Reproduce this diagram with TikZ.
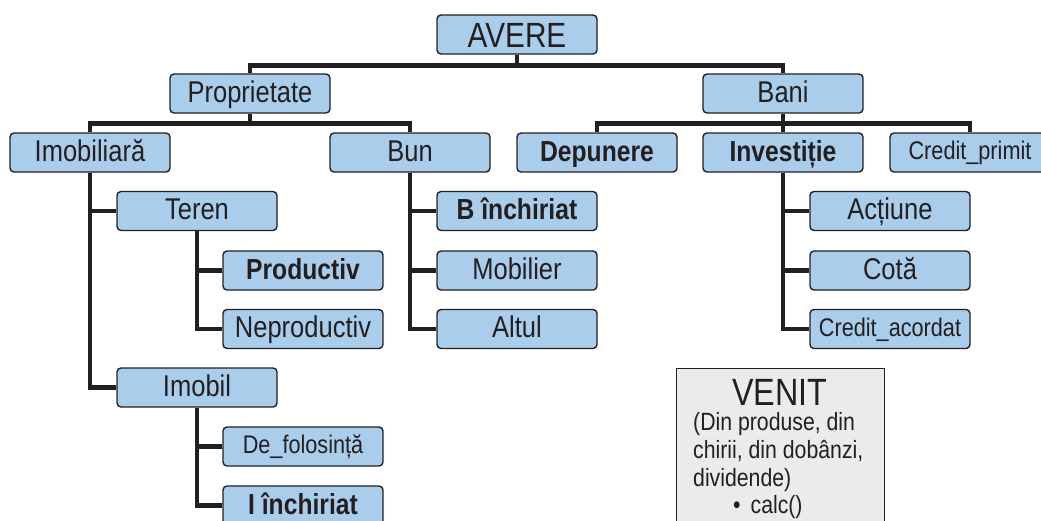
\documentclass[tikz,border=0pt]{standalone}
\usepackage{fontspec}
\setmainfont{Liberation Sans}[FakeStretch=0.85]
\usetikzlibrary{backgrounds}
\definecolor{boxblue}{RGB}{171,205,236}
\definecolor{ink}{RGB}{35,31,32}
\definecolor{venitgray}{RGB}{235,235,236}
\tikzset{
  box/.style={draw=ink, line width=1.4pt, fill=boxblue, rounded corners=4pt,
    minimum width=160pt, minimum height=39pt, inner sep=0pt, text=ink,
    font=\fontsize{30}{30}\selectfont, text height=21pt, text depth=4pt},
  bbox/.style={box, font=\fontsize{29}{29}\selectfont\bfseries},
  sbox/.style={box, font=\fontsize{25.5}{25.5}\selectfont, text height=18pt, text depth=3.5pt},
  topbox/.style={box, font=\fontsize{35}{35}\selectfont, text height=25pt, text depth=0pt},
  conn/.style={draw=ink, line width=4.8pt, line join=miter},
  venitbox/.style={draw=ink, line width=1.4pt, fill=venitgray, inner sep=0pt},
  vtext/.style={inner sep=0pt, text=ink, font=\fontsize{25}{25}\selectfont, anchor=base west}
}
\begin{document}
\begin{tikzpicture}[x=1pt,y=-1pt]
\useasboundingbox (0,0) rectangle (1041,520);
% level 0-1
\node[topbox] (avere) at (517,34.5) {AVERE};
\node[box] (prop) at (250,93.5) {Proprietate};
\node[box] (bani) at (783,93.5) {Bani};
% level 2
\node[box] (imob) at (90,152.5) {Imobiliară};
\node[box] (bun) at (410,152.5) {Bun};
\node[bbox] (dep) at (597,152.5) {Depunere};
\node[bbox] (inv) at (783,152.5) {Investiție};
\node[sbox] (credp) at (970,152.5) {Credit\_primit};
% Imobiliara subtree
\node[box] (teren) at (197,211) {Teren};
\node[bbox] (prod) at (303,270.5) {Productiv};
\node[box] (neprod) at (303,329) {Neproductiv};
\node[box] (imobil) at (197,387.5) {Imobil};
\node[sbox] (defol) at (303,446.5) {De\_folosință};
\node[bbox] (iinch) at (303,505.5) {I închiriat};
% Bun subtree
\node[bbox] (binch) at (517,211) {B închiriat};
\node[box] (mobil) at (517,270.5) {Mobilier};
\node[box] (altul) at (517,329) {Altul};
% Investitie subtree
\node[box] (actiune) at (890,211) {Acțiune};
\node[box] (cota) at (890,270.5) {Cotă};
\node[sbox] (credacc) at (890,329) {Credit\_acordat};
% VENIT
\node[venitbox, anchor=north west, minimum width=208pt, minimum height=200pt] (venit) at (676,368) {};
\node[inner sep=0pt, text=ink, font=\fontsize{38}{38}\selectfont, anchor=base] (vtitle) at (780,405) {VENIT};
\node[vtext] (vl1) at (693,430) {(Din produse, din};
\node[vtext] (vl2) at (693,458) {chirii, din dobânzi,};
\node[vtext] (vl3) at (693,486) {dividende)};
\node[vtext] (vl4) at (733,513) {•\hspace{10pt}calc()};
% connectors
\begin{scope}[on background layer]
\draw[conn] (avere.south) -- ++(0,11) -| (prop.north);
\draw[conn] (avere.south) -- ++(0,11) -| (bani.north);
\draw[conn] (prop.south) -- ++(0,10) -| (imob.north);
\draw[conn] (prop.south) -- ++(0,10) -| (bun.north);
\draw[conn] (bani.south) -- ++(0,10) -| (dep.north);
\draw[conn] (bani.south) -- ++(0,10) -| (credp.north);
\draw[conn] (bani.south) -- (inv.north);
\draw[conn] (imob.south) |- (teren.west);
\draw[conn] (imob.south) |- (imobil.west);
\draw[conn] (teren.south) |- (prod.west);
\draw[conn] (teren.south) |- (neprod.west);
\draw[conn] (imobil.south) |- (defol.west);
\draw[conn] (imobil.south) |- (iinch.west);
\draw[conn] (bun.south) |- (binch.west);
\draw[conn] (bun.south) |- (mobil.west);
\draw[conn] (bun.south) |- (altul.west);
\draw[conn] (inv.south) |- (actiune.west);
\draw[conn] (inv.south) |- (cota.west);
\draw[conn] (inv.south) |- (credacc.west);
\end{scope}
\end{tikzpicture}
\end{document}
